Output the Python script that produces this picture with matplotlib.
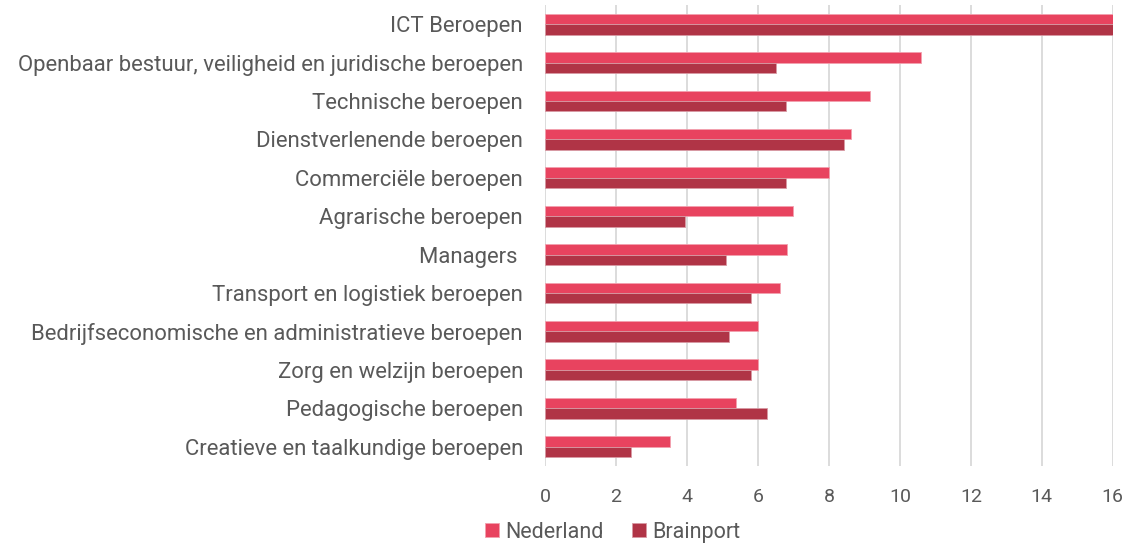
import matplotlib.pyplot as plt
import numpy as np

plt.rcParams['font.family'] = ['Roboto', 'DejaVu Sans']

beroepen = [
    'ICT Beroepen',
    'Openbaar bestuur, veiligheid en juridische beroepen',
    'Technische beroepen',
    'Dienstverlenende beroepen',
    'Commerciële beroepen',
    'Agrarische beroepen',
    'Managers ',
    'Transport en logistiek beroepen',
    'Bedrijfseconomische en administratieve beroepen',
    'Zorg en welzijn beroepen',
    'Pedagogische beroepen',
    'Creatieve en taalkundige beroepen',
]
nederland = [16.0, 10.6, 9.17, 8.62, 8.01, 6.98, 6.82, 6.61, 5.99, 5.99, 5.38, 3.51]
brainport = [16.0, 6.50, 6.79, 8.43, 6.78, 3.95, 5.09, 5.79, 5.19, 5.79, 6.24, 2.41]
xticks = [0, 2, 4, 6, 8, 10, 12, 14, 16]

kleur_nl = '#E8435F'
kleur_bp = '#B03446'
tekst = '#595959'

fig = plt.figure(figsize=(11.24, 5.5), dpi=100)
ax = fig.add_axes([0.485, 0.153, 0.505, 0.838])

y = np.arange(len(beroepen))
h = 0.27
ax.barh(y - h / 2, nederland, height=h, color=kleur_nl, edgecolor='#F2A0AE',
        linewidth=0.6, label='Nederland', zorder=3)
ax.barh(y + h / 2, brainport, height=h, color=kleur_bp, edgecolor='#D89AA4',
        linewidth=0.6, label='Brainport', zorder=3)

ax.set_ylim(len(beroepen) - 0.5, -0.5)
ax.set_xlim(0, 16)
ax.set_xticks(xticks)
ax.set_xticklabels([str(t) for t in xticks], fontsize=14, color=tekst)
ax.set_yticks(y)
ax.set_yticklabels(beroepen, fontsize=15.9, color=tekst)
ax.tick_params(axis='both', length=0)
ax.tick_params(axis='y', pad=16)
ax.tick_params(axis='x', pad=16)
ax.grid(axis='x', color='#D9D9D9', linewidth=1.3, zorder=0)
for s in ax.spines.values():
    s.set_visible(False)

fig.legend(loc='lower center', bbox_to_anchor=(0.545, -0.022), ncol=2,
           frameon=False, labelcolor=tekst, handlelength=0.65,
           handleheight=0.65, handletextpad=0.3, columnspacing=1.3,
           prop={'size': 15.5})

fig.savefig('out.png', dpi=100)
